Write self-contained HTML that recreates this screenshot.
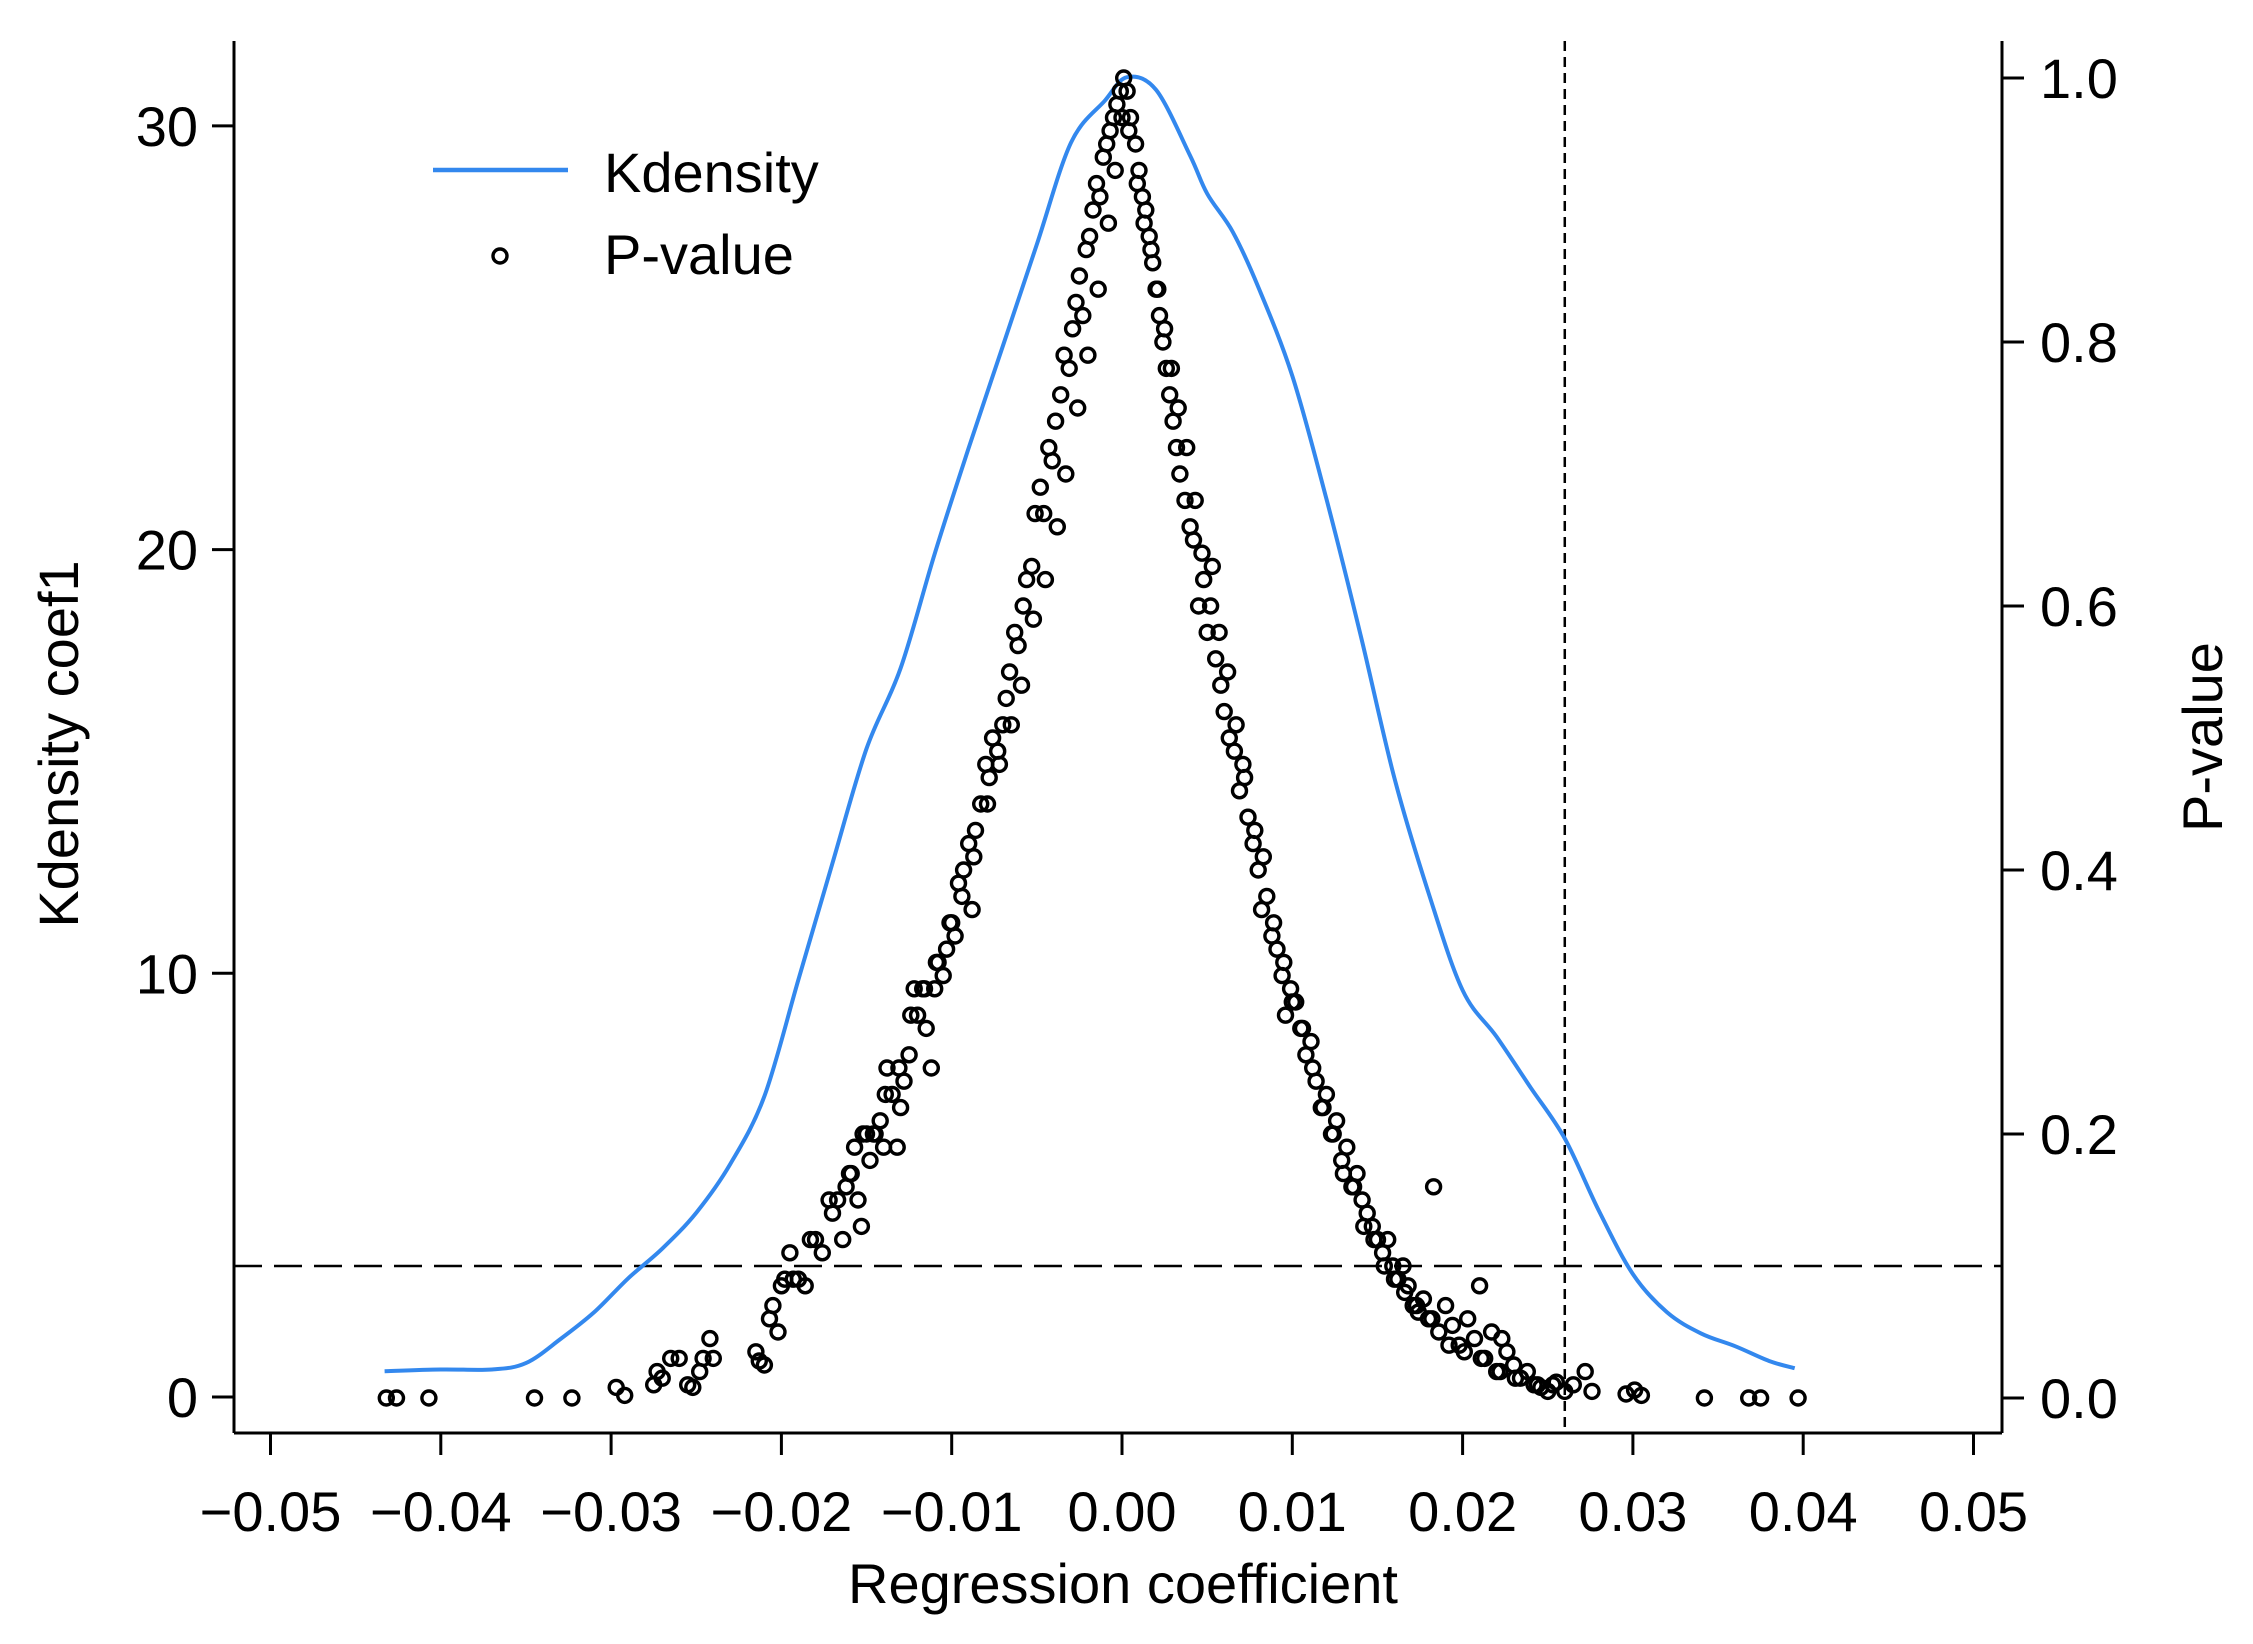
<!DOCTYPE html>
<html><head><meta charset="utf-8">
<style>
html,body{margin:0;padding:0;background:#fff;}
svg{display:block;font-family:"Liberation Sans",Arial,sans-serif;}
</style></head>
<body>
<svg id="chart" width="2253" height="1644" viewBox="0 0 2253 1644">
  <rect x="0" y="0" width="2253" height="1644" fill="#fff"/>
  <g id="axes"></g>
  <g id="refs"></g>
  <g id="density"></g>
  <g id="points"></g>
  <g id="legend">
    <line x1="433" y1="170" x2="568" y2="170" stroke="#3388ee" stroke-width="4.5"/>
    <text x="604" y="192" font-size="56" fill="#000">Kdensity</text>
    <circle cx="500" cy="256" r="7" fill="none" stroke="#000" stroke-width="3.4"/>
    <text x="604" y="274" font-size="56" fill="#000">P-value</text>
  </g>
  <text x="1123" y="1603" font-size="56" text-anchor="middle">Regression coefficient</text>
  <text transform="translate(78,744) rotate(-90)" font-size="56" text-anchor="middle">Kdensity coef1</text>
  <text transform="translate(2222,737) rotate(-90)" font-size="56" text-anchor="middle">P-value</text>
</svg>
<script>
// ---- data ----
const xTicks = [-0.05,-0.04,-0.03,-0.02,-0.01,0,0.01,0.02,0.03,0.04,0.05];
const xTickLabels = ["\u22120.05","\u22120.04","\u22120.03","\u22120.02","\u22120.01","0.00","0.01","0.02","0.03","0.04","0.05"];
const yLeftTicks = [0,10,20,30];
const yLeftLabels = ["0","10","20","30"];
const yRightTicks = [0,0.2,0.4,0.6,0.8,1.0];
const yRightLabels = ["0.0","0.2","0.4","0.6","0.8","1.0"];
const pThreshold = 0.1;
const coefLine = 0.026;
// kdensity curve (coef, density)
const densX = [-0.0433,-0.04,-0.037,-0.035,-0.033,-0.031,-0.029,-0.027,-0.025,-0.023,-0.021,-0.019,-0.017,-0.015,-0.013,-0.011,-0.009,-0.007,-0.005,-0.003,-0.001,0.0003,0.002,0.004,0.005,0.0065,0.008,0.010,0.012,0.014,0.016,0.018,0.020,0.022,0.024,0.026,0.028,0.030,0.032,0.034,0.036,0.038,0.0395];
const densY = [0.61,0.65,0.65,0.8,1.36,2.0,2.8,3.5,4.35,5.5,7.1,9.85,12.6,15.3,17.2,19.9,22.4,24.8,27.2,29.6,30.6,31.15,30.85,29.3,28.4,27.5,26.2,24.1,21.2,18.0,14.6,11.9,9.6,8.5,7.3,6.1,4.4,2.9,2.0,1.5,1.2,0.85,0.68];
// p-value scatter: coefficient (in 1e-3 units) and p-value
const ptCoef = [-43.2,-42.6,-40.7,-34.5,-32.3,-29.7,-29.2,-27.5,-27.3,-27,-26.5,-26,-25.5,-25.2,-24.8,-24.6,-24.2,-24,-21.5,-21.3,-21,-20.7,-20.5,-20.2,-20,-19.8,-19.5,-19.3,-19,-18.6,-18.3,-18,-17.6,-17.2,-17,-16.7,-16.4,-16.2,-16,-15.7,-15.5,-15.3,-15,-14.8,-14.5,-14.2,-14,-13.8,-13.5,-13.2,-13,-12.8,-12.5,-12.2,-12,-11.7,-11.5,-11.2,-11,-10.8,-10.5,-10.3,-10,-9.8,-9.6,-9.3,-9,-8.8,-8.6,-8.3,-8,-7.8,-7.6,-7.3,-7,-6.8,-6.6,-6.3,-6.1,-5.8,-5.6,-5.3,-5.1,-4.8,-4.6,-4.3,-4.1,-3.9,-3.6,-3.4,-3.1,-2.9,-2.7,-2.5,-2.3,-2.1,-1.9,-1.7,-1.5,-1.3,-1.1,-0.9,-0.7,-0.5,-0.3,-0.1,0.1,
0.3,0.5,0.8,1.0,1.2,1.4,1.6,1.8,2.0,2.2,2.4,2.6,2.8,3.0,3.2,3.4,3.7,4.0,4.2,4.5,4.8,5.0,5.2,5.5,5.8,6.0,6.3,6.6,6.9,7.1,7.4,7.7,8.0,8.2,8.5,8.8,9.1,9.4,9.6,9.9,10.2,10.5,10.8,11.1,11.4,11.7,12.0,12.3,12.6,12.9,13.2,13.5,13.8,14.1,14.4,14.7,15.0,15.3,15.6,15.9,16.2,16.5,16.8,17.1,17.4,17.7,18.0,18.3,18.6,19.0,19.4,19.8,20.3,20.7,21.0,21.3,21.7,22.0,22.3,22.6,23.0,23.4,23.8,24.2,24.6,25.0,25.5,26.0,26.5,27.2,27.6,29.6,30.1,30.5,34.2,36.8,37.5,39.7,
-15.9,-15.2,-14.6,-13.9,-13.1,-12.4,-11.6,-10.9,-10.1,-9.4,-8.7,-7.9,-7.2,-6.5,-5.9,-5.2,-4.5,-3.8,-3.3,-2.6,-2.0,-1.4,-0.8,-0.4,0.0,0.4,0.9,1.3,1.7,2.1,2.5,2.9,3.3,3.8,4.3,4.7,5.3,5.7,6.2,6.7,7.2,7.8,8.3,8.9,9.5,10.0,10.6,11.2,11.8,12.4,13.0,13.6,14.2,14.8,15.4,16.0,16.6,17.3,18.2,19.2,20.1,21.1,22.2,23.1,24.4,25.3];
const ptP = [0,0,0,0,0,0.008,0.002,0.01,0.02,0.015,0.03,0.03,0.01,0.008,0.02,0.03,0.045,0.03,0.035,0.028,0.025,0.06,0.07,0.05,0.085,0.09,0.11,0.09,0.09,0.085,0.12,0.12,0.11,0.15,0.14,0.15,0.12,0.16,0.17,0.19,0.15,0.13,0.2,0.18,0.2,0.21,0.19,0.25,0.23,0.19,0.22,0.24,0.26,0.31,0.29,0.31,0.28,0.25,0.31,0.33,0.32,0.34,0.36,0.35,0.39,0.4,0.42,0.37,0.43,0.45,0.48,0.47,0.5,0.49,0.51,0.53,0.55,0.58,0.57,0.6,0.62,0.63,0.67,0.69,0.67,0.72,0.71,0.74,0.76,0.79,0.78,0.81,0.83,0.85,0.82,0.87,0.88,0.9,0.92,0.91,0.94,0.95,0.96,0.97,0.98,0.99,1.0,
0.99,0.97,0.95,0.93,0.91,0.9,0.88,0.86,0.84,0.82,0.8,0.78,0.76,0.74,0.72,0.7,0.68,0.66,0.65,0.6,0.62,0.58,0.6,0.56,0.54,0.52,0.5,0.49,0.46,0.48,0.44,0.42,0.4,0.37,0.38,0.35,0.34,0.32,0.29,0.31,0.3,0.28,0.26,0.27,0.24,0.22,0.23,0.2,0.21,0.18,0.19,0.16,0.17,0.15,0.14,0.13,0.12,0.11,0.12,0.1,0.09,0.1,0.085,0.07,0.065,0.075,0.06,0.16,0.05,0.07,0.055,0.04,0.06,0.045,0.085,0.03,0.05,0.02,0.045,0.035,0.025,0.015,0.02,0.01,0.008,0.005,0.012,0.005,0.01,0.02,0.005,0.003,0.006,0.002,0,0,0,0,
0.17,0.2,0.2,0.23,0.25,0.29,0.31,0.33,0.36,0.38,0.41,0.45,0.48,0.51,0.54,0.59,0.62,0.66,0.7,0.75,0.79,0.84,0.89,0.93,0.97,0.96,0.92,0.89,0.87,0.84,0.81,0.78,0.75,0.72,0.68,0.64,0.63,0.58,0.55,0.51,0.47,0.43,0.41,0.36,0.33,0.3,0.28,0.25,0.22,0.2,0.17,0.16,0.13,0.12,0.1,0.09,0.08,0.07,0.06,0.04,0.035,0.03,0.02,0.015,0.01,0.01];

// ---- scales ----
const NS = "http://www.w3.org/2000/svg";
const X = v => 1122 + (v/0.01)*170.3;
const YL = v => 1397 - v*42.37;
const YR = v => 1398 - v*1320;
const L = 234, R = 2002, T = 41, B = 1433;
function mk(tag, attrs, parent){const e=document.createElementNS(NS,tag);for(const k in attrs)e.setAttribute(k,attrs[k]);parent.appendChild(e);return e;}

const axes = document.getElementById('axes');
let e;
e = mk('line',{x1:L,y1:T,x2:L,y2:B,stroke:'#000','stroke-width':3},axes);


e = mk('line',{x1:R,y1:T,x2:R,y2:B,stroke:'#000','stroke-width':3},axes);


e = mk('line',{x1:L,y1:B,x2:R,y2:B,stroke:'#000','stroke-width':3},axes);



xTicks.forEach((v,i)=>{
  const x = X(v);
  const t = mk('line',{x1:x,y1:B,x2:x,y2:B+22,stroke:'#000','stroke-width':3},axes);
  
  
  const tx = mk('text',{x:x,y:1531,'font-size':56,'text-anchor':'middle'},axes);
  tx.textContent = xTickLabels[i];
  
  
});
yLeftTicks.forEach((v,i)=>{
  const y = YL(v);
  const t = mk('line',{x1:L-22,y1:y,x2:L,y2:y,stroke:'#000','stroke-width':3},axes);
  
  
  const tx = mk('text',{x:198,y:y+20,'font-size':56,'text-anchor':'end'},axes);
  tx.textContent = yLeftLabels[i];
  
  
});
yRightTicks.forEach((v,i)=>{
  const y = YR(v);
  const t = mk('line',{x1:R,y1:y,x2:R+22,y2:y,stroke:'#000','stroke-width':3},axes);
  
  
  const tx = mk('text',{x:2040,y:y+20,'font-size':56,'text-anchor':'start'},axes);
  tx.textContent = yRightLabels[i];
  
  
});

const refs = document.getElementById('refs');
e = mk('line',{x1:L,y1:YR(pThreshold),x2:R,y2:YR(pThreshold),stroke:'#000','stroke-width':2.5,'stroke-dasharray':'28 12'},refs);


e = mk('line',{x1:X(coefLine),y1:T,x2:X(coefLine),y2:B,stroke:'#000','stroke-width':2.5,'stroke-dasharray':'10 6'},refs);



// smooth Catmull-Rom path through density points
const dg = document.getElementById('density');
const P = densX.map((v,i)=>[X(v), YL(densY[i])]);
let d = 'M'+P[0][0].toFixed(1)+','+P[0][1].toFixed(1);
for(let i=0;i<P.length-1;i++){
  const p0=P[Math.max(0,i-1)], p1=P[i], p2=P[i+1], p3=P[Math.min(P.length-1,i+2)];
  const c1=[p1[0]+(p2[0]-p0[0])/6, p1[1]+(p2[1]-p0[1])/6];
  const c2=[p2[0]-(p3[0]-p1[0])/6, p2[1]-(p3[1]-p1[1])/6];
  d += ' C'+c1[0].toFixed(1)+','+c1[1].toFixed(1)+' '+c2[0].toFixed(1)+','+c2[1].toFixed(1)+' '+p2[0].toFixed(1)+','+p2[1].toFixed(1);
}
e = mk('path',{d:d,fill:'none',stroke:'#3388ee','stroke-width':4,'stroke-linejoin':'round'},dg);



const pg = document.getElementById('points');
ptCoef.forEach((c,i)=>{
  const p = mk('circle',{cx:X(c/1000).toFixed(1),cy:YR(ptP[i]).toFixed(1),r:7,fill:'none',stroke:'#000','stroke-width':3.4},pg);
  
  
});
</script>
</body></html>
